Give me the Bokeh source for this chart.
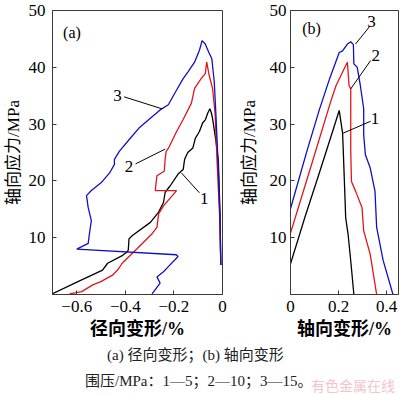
from bokeh.plotting import figure
from bokeh.models import FixedTicker, CustomJSTickFormatter, Div
from bokeh.layouts import row, column
from bokeh.core.properties import value
from bokeh.embed import file_html
from bokeh.resources import INLINE

# ---------------- data ----------------
# (a) radial strain (%) vs axial stress (MPa)
a1_x = [-0.702, -0.593, -0.494, -0.473, -0.411, -0.393, -0.388, -0.385, -0.371, -0.297, -0.263,
        -0.243, -0.236, -0.216, -0.183, -0.162, -0.156, -0.143, -0.122, -0.112, -0.095, -0.082,
        -0.070, -0.061, -0.052, -0.046, -0.041, -0.027, -0.017, -0.010, -0.007]
a1_y = [0.1, 2.3, 4.3, 5.5, 6.9, 7.5, 7.8, 9.8, 10.4, 12.7, 14.5,
        16.2, 18.0, 19.1, 21.2, 22.0, 23.8, 25.0, 25.8, 27.5, 28.7, 30.2,
        30.8, 31.9, 32.7, 32.0, 31.0, 27.0, 23.5, 14.0, 5.2]

a2_x = [-0.630, -0.580, -0.534, -0.499, -0.453, -0.432, -0.413, -0.351, -0.290, -0.270, -0.263,
        -0.243, -0.189, -0.277, -0.270, -0.240, -0.236, -0.232, -0.222, -0.189, -0.162, -0.128,
        -0.115, -0.088, -0.071, -0.065, -0.055, -0.041, -0.030, -0.023, -0.012, -0.007]
a2_y = [0.1, 0.5, 1.7, 2.3, 3.4, 4.3, 5.5, 8.1, 10.7, 11.8, 14.2,
        15.6, 18.3, 18.3, 20.9, 21.7, 23.8, 25.2, 25.8, 28.7, 30.8, 33.7,
        36.3, 38.0, 38.9, 40.9, 38.6, 36.3, 31.6, 24.0, 14.0, 5.2]

a3_x = [-0.290, -0.257, -0.270, -0.243, -0.223, -0.183, -0.190, -0.600, -0.553, -0.547, -0.540,
        -0.553, -0.560, -0.540, -0.499, -0.465, -0.445, -0.445, -0.425, -0.378, -0.344, -0.257,
        -0.223, -0.189, -0.162, -0.142, -0.115, -0.095, -0.084, -0.071, -0.057, -0.044, -0.034,
        -0.027, -0.019, -0.010, -0.007]
a3_y = [0.1, 2.0, 3.1, 4.0, 4.9, 6.7, 7.0, 8.0, 9.0, 11.0, 13.0,
        15.3, 17.4, 18.3, 19.7, 21.4, 22.9, 23.8, 25.2, 27.6, 29.3, 32.5,
        33.4, 36.0, 38.0, 39.2, 40.9, 43.0, 44.7, 44.1, 42.7, 41.5, 37.5,
        31.6, 24.0, 13.0, 5.2]

# (b) axial strain (%) vs axial stress (MPa)
b1_x = [0.0, 0.060, 0.120, 0.170, 0.203, 0.217, 0.220, 0.230, 0.240, 0.252, 0.264]
b1_y = [5.4, 13.6, 21.4, 28.0, 32.4, 28.4, 25.2, 13.5, 10.6, 5.5, 0.0]

b2_x = [0.0, 0.090, 0.170, 0.190, 0.215, 0.237, 0.244, 0.251, 0.251, 0.254, 0.271, 0.298,
        0.305, 0.332, 0.359]
b2_y = [10.8, 23.2, 34.3, 36.8, 39.0, 40.9, 36.8, 36.2, 25.2, 19.9, 18.2, 15.3,
        11.2, 7.1, 0.0]

b3_x = [0.0, 0.068, 0.120, 0.163, 0.203, 0.217, 0.237, 0.251, 0.262, 0.264, 0.278, 0.291,
        0.305, 0.305, 0.312, 0.332, 0.352, 0.359, 0.386, 0.427]
b3_y = [15.1, 25.2, 32.5, 38.0, 42.6, 42.9, 44.1, 44.5, 44.0, 40.6, 40.0, 36.8,
        32.7, 28.1, 24.6, 22.3, 18.2, 11.8, 6.0, 0.0]

y_ticks = [10, 20, 30, 40, 50]
a_x_ticks = [-0.6, -0.4, -0.2, 0]
b_x_ticks = [0, 0.2, 0.4]
colors = ["#000000", "#e2141c", "#1010c0"]

ylabel = "轴向应力/MPa"
a_xlabel = "径向变形/%"
b_xlabel = "轴向变形/%"
caption1 = "(a) 径向变形；(b) 轴向变形"
caption2 = "围压/MPa：1—5；2—10；3—15。"
watermark = "有色金属在线"

SERIF = "Liberation Serif"
MIXED = "Liberation Serif, Noto Sans CJK SC"
FRAME = "#3a3a3a"

fmt = CustomJSTickFormatter(code="""
if (Math.abs(tick) < 1e-9) return "0";
return (tick < 0 ? "\u2212" : "") + Math.abs(tick).toFixed(1);
""")


def style(p, xticks, xlabel, tick_standoff, label_standoff):
    p.xgrid.visible = False
    p.ygrid.visible = False
    p.outline_line_color = FRAME
    p.outline_line_width = 1
    p.background_fill_color = "white"
    p.border_fill_color = "white"
    for ax in (p.xaxis[0], p.yaxis[0]):
        ax.axis_line_color = FRAME
        ax.major_tick_line_color = FRAME
        ax.major_tick_in = 4
        ax.major_tick_out = 0
        ax.minor_tick_line_color = None
        ax.major_label_text_font = SERIF
        ax.major_label_text_font_size = "17px"
        ax.major_label_text_color = "black"
        ax.axis_label_text_font = MIXED
        ax.axis_label_text_color = "black"
    p.xaxis.major_label_standoff = 6
    p.xaxis.axis_label_standoff = 4
    p.yaxis.major_label_standoff = tick_standoff
    p.yaxis.axis_label_standoff = label_standoff
    p.yaxis.ticker = FixedTicker(ticks=y_ticks)
    p.xaxis.ticker = FixedTicker(ticks=xticks)
    p.xaxis.formatter = fmt
    p.yaxis.axis_label = ylabel
    p.yaxis.axis_label_text_font_size = "17px"
    p.yaxis.axis_label_text_font_style = "normal"
    p.xaxis.axis_label = xlabel
    p.xaxis.axis_label_text_font_size = "18px"
    p.xaxis.axis_label_text_font_style = "bold"


def label(p, x, y, t, size="17px"):
    p.text(x=[x], y=[y], text=[t], text_font=value(SERIF), text_font_size=size,
           text_align="center", text_baseline="middle", text_color="black")


# ---------------- panel (a) ----------------
pa = figure(width=236, height=342, x_range=(-0.7, 0.0), y_range=(0, 50),
            output_backend="svg", toolbar_location=None,
            min_border_left=50, min_border_right=14, min_border_top=10, min_border_bottom=48)
style(pa, a_x_ticks, a_xlabel, 7, 3)
for xs, ys, c in zip([a1_x, a2_x, a3_x], [a1_y, a2_y, a3_y], colors):
    pa.line(xs, ys, line_color=c, line_width=1.3)
label(pa, -0.62, 46.1, "(a)", "16px")
label(pa, -0.432, 35.0, "3")
pa.segment(x0=[-0.405], y0=[34.8], x1=[-0.25], y1=[32.7], line_color="black", line_width=1)
label(pa, -0.385, 22.6, "2")
pa.segment(x0=[-0.358], y0=[23.0], x1=[-0.236], y1=[25.6], line_color="black", line_width=1)
label(pa, -0.075, 16.9, "1")
pa.segment(x0=[-0.095], y0=[17.9], x1=[-0.169], y1=[21.4], line_color="black", line_width=1)

# ---------------- panel (b) ----------------
pb = figure(width=164, height=342, x_range=(0.0, 0.45), y_range=(0, 50),
            output_backend="svg", toolbar_location=None,
            min_border_left=53, min_border_right=2, min_border_top=10, min_border_bottom=48)
style(pb, b_x_ticks, b_xlabel, 4, 8)
for xs, ys, c in zip([b1_x, b2_x, b3_x], [b1_y, b2_y, b3_y], colors):
    pb.line(xs, ys, line_color=c, line_width=1.3)
label(pb, 0.088, 46.9, "(b)", "16px")
label(pb, 0.337, 48.0, "3")
pb.segment(x0=[0.332], y0=[47.3], x1=[0.271], y1=[44.1], line_color="black", line_width=1)
label(pb, 0.355, 42.0, "2")
pb.segment(x0=[0.334], y0=[41.2], x1=[0.251], y1=[36.2], line_color="black", line_width=1)
label(pb, 0.352, 30.9, "1")
pb.segment(x0=[0.334], y0=[30.5], x1=[0.219], y1=[28.4], line_color="black", line_width=1)

# ---------------- captions ----------------
cap = Div(text=(
    '<div style="position:relative;width:400px;height:53px;'
    "font-family:'Liberation Serif','Noto Sans CJK SC',serif;color:#222;font-size:15px;\">"
    '<div style="position:absolute;top:4px;left:107px;line-height:18px;white-space:nowrap;">'
    + caption1 + '</div>'
    '<div style="position:absolute;top:30px;left:85px;line-height:18px;white-space:nowrap;">'
    + caption2 + '</div>'
    '<div style="position:absolute;top:35px;left:311px;line-height:16px;white-space:nowrap;'
    "color:#f4c4ca;font-family:'Noto Sans CJK SC',sans-serif;font-size:14px;\">"
    + watermark + '</div></div>'),
    width=400, height=53, margin=0)

layout = column(row(pa, pb, spacing=0), cap, spacing=0)
open("out.html", "w").write(file_html(layout, INLINE))
